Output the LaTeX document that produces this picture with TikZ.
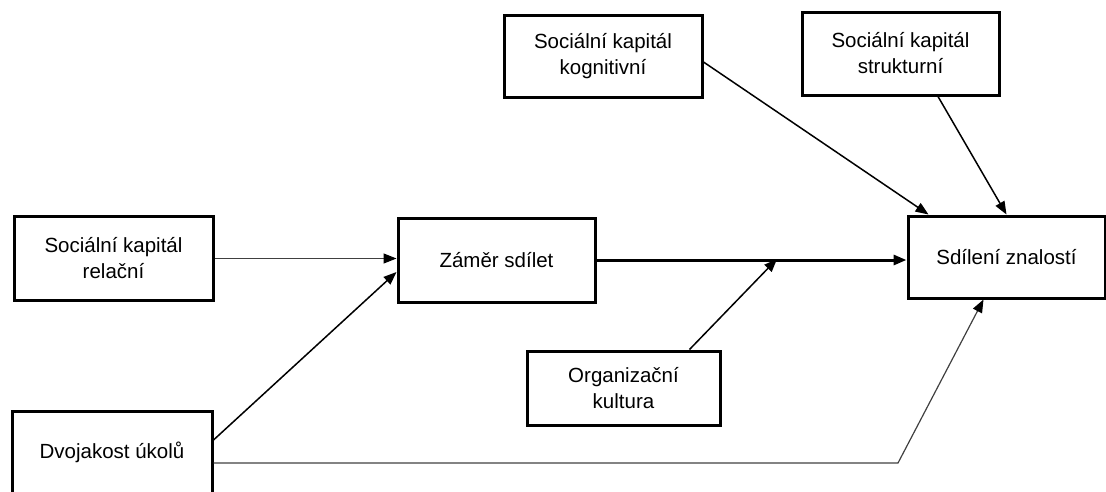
\documentclass[tikz,border=0pt]{standalone}
\usepackage{fontspec}
\setmainfont{Liberation Sans}
\usetikzlibrary{arrows.meta}

\begin{document}
\begin{tikzpicture}[x=1pt, y=-1pt, font=\fontsize{20.5}{26}\selectfont]
		\tikzstyle{block} = [rectangle, minimum width=197pt, minimum height=83pt, align=center, draw=black, line width=3pt, inner sep=0pt]
		
		\tikzstyle{arrow} = [-{Triangle[length=13pt,width=10pt,black]}, line width=1.5pt]
		
		\tikzstyle{thinarrow} = [arrow, line width=1.2pt, draw=black!75]
		
		\useasboundingbox (0,0) rectangle (1106,491);
		\clip (0,0) rectangle (1106,491);
		
		% Social capital nodes
		\node (kog) [block, minimum width=198pt, minimum height=82pt] at (603,56) {Sociální kapitál\\kognitivní};
		\node (str) [block] at (900.5,53.5) {Sociální kapitál\\strukturní};
		\node (rel) [block, minimum width=199pt, minimum height=84pt] at (113.5,258.5) {Sociální kapitál\\relační};
		
		% Middle nodes
		\node (zam) [block, minimum height=84pt] at (496.5,260) {Záměr sdílet};
		\node (sdi) [block, minimum height=82pt] at (1006.5,257) {Sdílení znalostí};
		\node (org) [block, minimum width=193pt, minimum height=74pt] at (623.5,388) {Organizační\\kultura};
		\node (dvo) [block, minimum width=200pt, minimum height=82pt] at (112,452) {Dvojakost úkolů};
		
		% Helper points
		\coordinate (join) at (777,259);
		\coordinate (bend) at (898,463);
		
		% Arrows
		\draw [thinarrow] (rel.east) -- (rel.east -| zam.west);
		\draw [arrow] ([yshift=12pt]dvo.east) -- ([yshift=-12pt]zam.west);
		\draw [arrow, line width=3pt] (zam.east) -- (zam.east -| sdi.west);
		\draw [arrow] ([xshift=66pt]org.north) -- (join);
		\draw [arrow] ([yshift=-6pt]kog.east) -- ([xshift=-78pt]sdi.north);
		\draw [arrow] ([xshift=37.5pt]str.south) -- (sdi.north);
		\draw [thinarrow] (bend -| dvo.east) -- (bend) -- ([xshift=-23pt]sdi.south);
		\end{tikzpicture}
\end{document}
